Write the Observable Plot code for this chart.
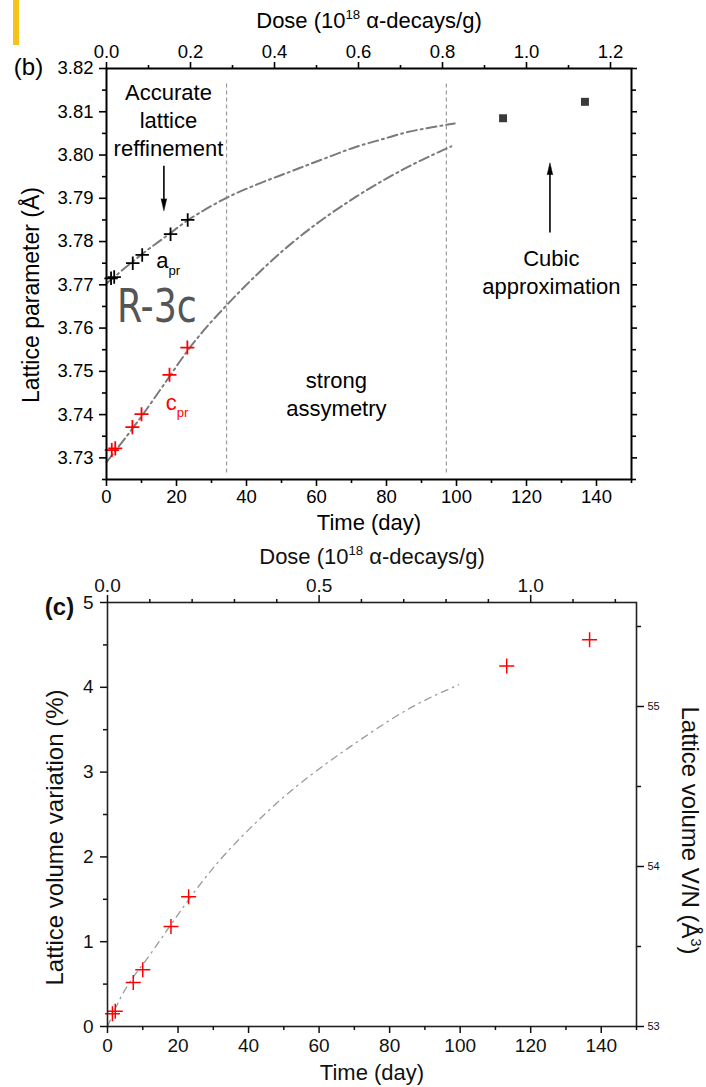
<!DOCTYPE html>
<html>
<head>
<meta charset="utf-8">
<script src="https://cdn.jsdelivr.net/npm/d3@7"></script>
<script src="https://cdn.jsdelivr.net/npm/@observablehq/plot@0.6"></script>
<style>
  html, body { margin: 0; padding: 0; background: #fff; }
  body { width: 706px; height: 1087px; position: relative; overflow: hidden; font-family: "Liberation Sans", Arial, sans-serif; }
  #bar { position: absolute; left: 13px; top: 0; width: 6px; height: 45px; background: #f6c31c; }
  #panelB { position: absolute; left: 0; top: 0; }
  #panelC { position: absolute; left: 0; top: 540px; }
</style>
</head>
<body>
<div id="bar"></div>
<div id="panelB"></div>
<div id="panelC"></div>
<script>
// ---------------- data: panel (b) ----------------
const timeA = [1.3, 2.2, 7.5, 10.2, 18.3, 23.2];
const aPr = [3.7715, 3.7718, 3.7750, 3.7769, 3.7817, 3.7850];
const timeC = [1.5, 2.5, 7.4, 10.0, 18.0, 23.1];
const cPr = [3.7318, 3.7322, 3.7371, 3.7401, 3.7492, 3.7555];
const timeCubic = [113.3, 136.7];
const aCubic = [3.8085, 3.8123];
const fitATime = [0, 10, 18, 23, 28, 34, 43, 52, 62, 71, 79, 86, 93, 99.5];
const fitAVal = [3.7703, 3.7770, 3.7818, 3.7848, 3.7873, 3.7900, 3.7932, 3.7960, 3.7991, 3.8018, 3.8037, 3.8053, 3.8064, 3.8073];
const fitCTime = [0, 10, 18, 23, 27, 34, 52, 71, 86, 98.5];
const fitCVal = [3.7290, 3.7396, 3.7488, 3.7546, 3.7587, 3.7650, 3.7790, 3.7902, 3.7972, 3.8020];
const regionBounds = [34.3, 97.1];

// ---------------- data: panel (c) ----------------
const timeVol = [1.4, 2.2, 7.3, 10.0, 18.0, 23.0, 113.2, 136.7];
const volVar = [0.15, 0.18, 0.52, 0.67, 1.18, 1.53, 4.25, 4.56];
const fitVolTime = [0, 3, 12.8, 31.2, 45, 72, 86, 99.6];
const fitVolVal = [0, 0.28, 0.89, 1.93, 2.52, 3.39, 3.76, 4.03];

// ---------------- ticks ----------------
const timeMajor = [0, 20, 40, 60, 80, 100, 120, 140];
const timeMinor = [10, 30, 50, 70, 90, 110, 130, 150];
const doseMajorB = [0, 0.2, 0.4, 0.6, 0.8, 1.0, 1.2];
const doseMinorB = [0.1, 0.3, 0.5, 0.7, 0.9, 1.1];
const doseMajorC = [0, 0.5, 1.0];
const doseMinorC = [0.1, 0.2, 0.3, 0.4, 0.6, 0.7, 0.8, 0.9, 1.1, 1.2];
const latMajor = [3.73, 3.74, 3.75, 3.76, 3.77, 3.78, 3.79, 3.80, 3.81, 3.82];
const latMinor = [3.725, 3.735, 3.745, 3.755, 3.765, 3.775, 3.785, 3.795, 3.805, 3.815];
const volMajor = [0, 1, 2, 3, 4, 5];
const volMinor = [0.5, 1.5, 2.5, 3.5, 4.5];
const vnMajor = [53, 54, 55];
const vnMinor = [53.5, 54.5, 55.5];
const DAYS_PER_DOSE = 120;   // 1e18 alpha-decays/g accumulated in 120 days
const V0 = 53;               // V/N reference volume (Å^3)

// ---------------- labels ----------------
const doseTitle = "Dose (10^{18} α-decays/g)";
const timeTitle = "Time (day)";
const latTitle = "Lattice parameter (Å)";
const volTitle = "Lattice volume variation (%)";
const vnTitle = "Lattice volume V/N (Å^{3})";

const FONT = "'Liberation Sans', Arial, Helvetica, sans-serif";
const zip = (xs, ys) => xs.map((t, i) => ({t, v: ys[i]}));

// turn ^{..} and _{..} into super/subscript tspans
function richText(svg) {
  const NS = "http://www.w3.org/2000/svg";
  svg.querySelectorAll("text").forEach(t => {
    const targets = t.querySelector("tspan") ? [...t.querySelectorAll("tspan")] : [t];
    targets.forEach(el => {
      const s = el.textContent;
      if (!/[\^_]\{/.test(s)) return;
      el.textContent = "";
      const parts = s.split(/([\^_]\{[^}]*\})/).filter(p => p.length);
      let pending = 0;
      for (const p of parts) {
        const ts = document.createElementNS(NS, "tspan");
        const m = p.match(/^([\^_])\{(.*)\}$/);
        if (m) {
          ts.textContent = m[2];
          ts.setAttribute("font-size", "0.6em");
          const shift = m[1] === "^" ? -0.62 : 0.55;
          ts.setAttribute("dy", (shift - pending / 0.6) + "em");
          pending = -shift * 0.6;
        } else {
          ts.textContent = p;
          if (pending) ts.setAttribute("dy", pending + "em");
          pending = 0;
        }
        el.appendChild(ts);
      }
    });
  });
}
function fitWidth(svg, str, w) {
  svg.querySelectorAll("text").forEach(t => {
    if (t.textContent === str) { t.setAttribute("textLength", w); t.setAttribute("lengthAdjust", "spacingAndGlyphs"); }
  });
}
function tickFont(svg, px) {
  svg.querySelectorAll('g[aria-label$="tick label"]').forEach(g => { g.style.fontSize = px + "px"; });
}

const TB = 18.5; // tick font (b)
const TC = 19;   // tick font (c)

// ---------------- panel (b) ----------------
const plotB = Plot.plot({
  width: 706, height: 540,
  marginTop: 68, marginBottom: 61, marginLeft: 106, marginRight: 75,
  style: {fontFamily: FONT, fontSize: TB + "px", color: "#000", background: "transparent", overflow: "visible"},
  x: {domain: [0, 150]},
  y: {domain: [3.725, 3.82]},
  marks: [
    Plot.ruleX(regionBounds, {y1: 3.7265, y2: 3.8168, stroke: "#9a9a9a", strokeWidth: 1.2, strokeDasharray: "4,3"}),
    Plot.line(zip(fitATime, fitAVal), {x: "t", y: "v", curve: "monotone-x", stroke: "#7a7a7a", strokeWidth: 2, strokeDasharray: "10,4,2,4"}),
    Plot.line(zip(fitCTime, fitCVal), {x: "t", y: "v", curve: "monotone-x", stroke: "#7a7a7a", strokeWidth: 2, strokeDasharray: "10,4,2,4"}),
    Plot.dot(zip(timeA, aPr), {x: "t", y: "v", symbol: "plus", r: 4.4, stroke: "#000", strokeWidth: 1.8}),
    Plot.dot(zip(timeC, cPr), {x: "t", y: "v", symbol: "plus", r: 4.6, stroke: "#ff0000", strokeWidth: 1.8}),
    Plot.dot(zip(timeCubic, aCubic), {x: "t", y: "v", symbol: "square", r: 4.5, fill: "#3a3a3a", stroke: "none"}),
    // annotation arrows
    Plot.link([{x1: 16.4, y1: 3.7975, x2: 16.4, y2: 3.7885}], {x1: "x1", y1: "y1", x2: "x2", y2: "y2", stroke: "#000", strokeWidth: 1.6}),
    Plot.vector([{t: 16.4, v: 3.7871}], {x: "t", y: "v", length: 12, rotate: 180, anchor: "end", shape: "spike", r: 2.8, fill: "#000", stroke: "#000", strokeWidth: 0.5}),
    Plot.link([{x1: 126.7, y1: 3.7821, x2: 126.7, y2: 3.7965}], {x1: "x1", y1: "y1", x2: "x2", y2: "y2", stroke: "#000", strokeWidth: 1.6}),
    Plot.vector([{t: 126.7, v: 3.7982}], {x: "t", y: "v", length: 12, rotate: 0, anchor: "end", shape: "spike", r: 2.8, fill: "#000", stroke: "#000", strokeWidth: 0.5}),
    // annotations
    Plot.text([{t: 17.7, v: 3.8084, s: "Accurate\nlattice\nreffinement"}], {x: "t", y: "v", text: "s", fontSize: 22, lineHeight: 1.27, fill: "#000"}),
    Plot.text([{t: 65.7, v: 3.7450, s: "strong\nassymetry"}], {x: "t", y: "v", text: "s", fontSize: 22, lineHeight: 1.27, fill: "#000"}),
    Plot.text([{t: 127.1, v: 3.7732, s: "Cubic\napproximation"}], {x: "t", y: "v", text: "s", fontSize: 22, lineHeight: 1.27, fill: "#000"}),
    Plot.text([{t: 14.2, v: 3.7756, s: "a_{pr}"}], {x: "t", y: "v", text: "s", textAnchor: "start", fontSize: 22, fill: "#000"}),
    Plot.text([{t: 16.9, v: 3.7427, s: "c_{pr}"}], {x: "t", y: "v", text: "s", textAnchor: "start", fontSize: 22, fill: "#ff0000"}),
    Plot.text([{t: 14.4, v: 3.7647, s: "R-3c"}], {x: "t", y: "v", text: "s", fontSize: 46, fill: "#555", fontFamily: "'DejaVu Sans Condensed', 'Liberation Sans Narrow', sans-serif"}),
    // frame & axes
    Plot.frame({stroke: "#000", strokeWidth: 2}),
    Plot.axisX({anchor: "bottom", ticks: timeMajor, tickSize: 7, tickPadding: 3, fontSize: TB, tickFormat: d => d, label: null, strokeWidth: 1.6}),
    Plot.axisX({anchor: "bottom", ticks: timeMinor, tickSize: 4, tickFormat: () => "", label: null, strokeWidth: 1.6}),
    Plot.axisX({anchor: "top", ticks: doseMajorB.map(d => d * DAYS_PER_DOSE), tickSize: 7, tickPadding: 4, fontSize: TB, tickFormat: d => (d / DAYS_PER_DOSE).toFixed(1), label: null, strokeWidth: 1.6}),
    Plot.axisX({anchor: "top", ticks: doseMinorB.map(d => d * DAYS_PER_DOSE), tickSize: 4, tickFormat: () => "", label: null, strokeWidth: 1.6}),
    Plot.axisY({anchor: "left", ticks: latMajor, tickSize: 7, tickPadding: 6, fontSize: TB, tickFormat: d3.format(".2f"), label: null, strokeWidth: 1.6}),
    Plot.axisY({anchor: "left", ticks: latMinor, tickSize: 4, tickFormat: () => "", label: null, strokeWidth: 1.6}),
    Plot.axisY({anchor: "right", ticks: latMajor, tickSize: 5, tickFormat: () => "", label: null, strokeWidth: 1.6}),
    Plot.axisY({anchor: "right", ticks: latMinor, tickSize: 4, tickFormat: () => "", label: null, strokeWidth: 1.6}),
    // titles
    Plot.text([doseTitle], {text: d => d, frameAnchor: "top", textAnchor: "middle", lineAnchor: "middle", dy: -48, fontSize: 22, fill: "#000"}),
    Plot.text([timeTitle], {text: d => d, frameAnchor: "bottom", textAnchor: "middle", lineAnchor: "middle", dy: 43, fontSize: 22, fill: "#000"}),
    Plot.text([latTitle], {text: d => d, frameAnchor: "left", textAnchor: "middle", lineAnchor: "middle", dx: -75, dy: 21, rotate: -90, fontSize: 23, fill: "#000"}),
    Plot.text(["(b)"], {text: d => d, frameAnchor: "top-left", textAnchor: "middle", lineAnchor: "middle", dx: -78, dy: -1, fontSize: 24, fill: "#000"})
  ]
});
document.getElementById("panelB").appendChild(plotB);
richText(plotB);
fitWidth(plotB, "R-3c", 80);
tickFont(plotB, TB);

// ---------------- panel (c) ----------------
const plotC = Plot.plot({
  width: 706, height: 547,
  marginTop: 62, marginBottom: 61, marginLeft: 107, marginRight: 70,
  style: {fontFamily: FONT, fontSize: TC + "px", color: "#111", background: "transparent", overflow: "visible"},
  x: {domain: [0, 150]},
  y: {domain: [0, 5]},
  marks: [
    Plot.line(zip(fitVolTime, fitVolVal), {x: "t", y: "v", curve: "monotone-x", stroke: "#9a9a9a", strokeWidth: 1.3, strokeDasharray: "7,5,1.5,5"}),
    Plot.dot(zip(timeVol, volVar), {x: "t", y: "v", symbol: "plus", r: 4.9, stroke: "#ff0000", strokeWidth: 1.5}),
    Plot.frame({stroke: "#222", strokeWidth: 1.6}),
    Plot.axisX({anchor: "bottom", ticks: timeMajor, tickSize: 7, tickPadding: 5, fontSize: TC, tickFormat: d => d, label: null, strokeWidth: 1.5}),
    Plot.axisX({anchor: "bottom", ticks: timeMinor, tickSize: 4, tickFormat: () => "", label: null, strokeWidth: 1.5}),
    Plot.axisX({anchor: "top", ticks: doseMajorC.map(d => d * DAYS_PER_DOSE), tickSize: 8, tickPadding: 3, fontSize: TC, tickFormat: d => (d / DAYS_PER_DOSE).toFixed(1), label: null, strokeWidth: 1.5}),
    Plot.axisX({anchor: "top", ticks: doseMinorC.map(d => d * DAYS_PER_DOSE), tickSize: 4, tickFormat: () => "", label: null, strokeWidth: 1.5}),
    Plot.axisY({anchor: "left", ticks: volMajor, tickSize: 7, tickPadding: 7, fontSize: TC, tickFormat: d => d, label: null, strokeWidth: 1.5}),
    Plot.axisY({anchor: "left", ticks: volMinor, tickSize: 4, tickFormat: () => "", label: null, strokeWidth: 1.5}),
    Plot.axisY({anchor: "right", ticks: vnMajor.map(v => (v / V0 - 1) * 100), tickSize: 7, tickPadding: 4, fontSize: 11, tickFormat: d => Math.round(V0 * (1 + d / 100)), label: null, strokeWidth: 1.5}),
    Plot.axisY({anchor: "right", ticks: vnMinor.map(v => (v / V0 - 1) * 100), tickSize: 4, tickFormat: () => "", label: null, strokeWidth: 1.5}),
    Plot.text([doseTitle], {text: d => d, frameAnchor: "top", textAnchor: "middle", lineAnchor: "middle", dy: -46, fontSize: 22, fill: "#111"}),
    Plot.text([timeTitle], {text: d => d, frameAnchor: "bottom", textAnchor: "middle", lineAnchor: "middle", dy: 46, fontSize: 22, fill: "#111"}),
    Plot.text([volTitle], {text: d => d, frameAnchor: "left", textAnchor: "middle", lineAnchor: "middle", dx: -52, dy: 23, rotate: -90, fontSize: 24, fill: "#111"}),
    Plot.text([vnTitle], {text: d => d, frameAnchor: "right", textAnchor: "middle", lineAnchor: "middle", dx: 53, dy: 16, rotate: 90, fontSize: 24, fill: "#111"}),
    Plot.text(["(c)"], {text: d => d, frameAnchor: "top-left", textAnchor: "middle", lineAnchor: "middle", dx: -48, dy: 5, fontSize: 24, fontWeight: "bold", fill: "#111"})
  ]
});
document.getElementById("panelC").appendChild(plotC);
richText(plotC);
tickFont(plotC, TC);
plotC.querySelectorAll('g[aria-label="y-axis tick label"]').forEach(g => {
  if (g.textContent.includes("55")) g.style.fontSize = "11px";
});
</script>
</body>
</html>
